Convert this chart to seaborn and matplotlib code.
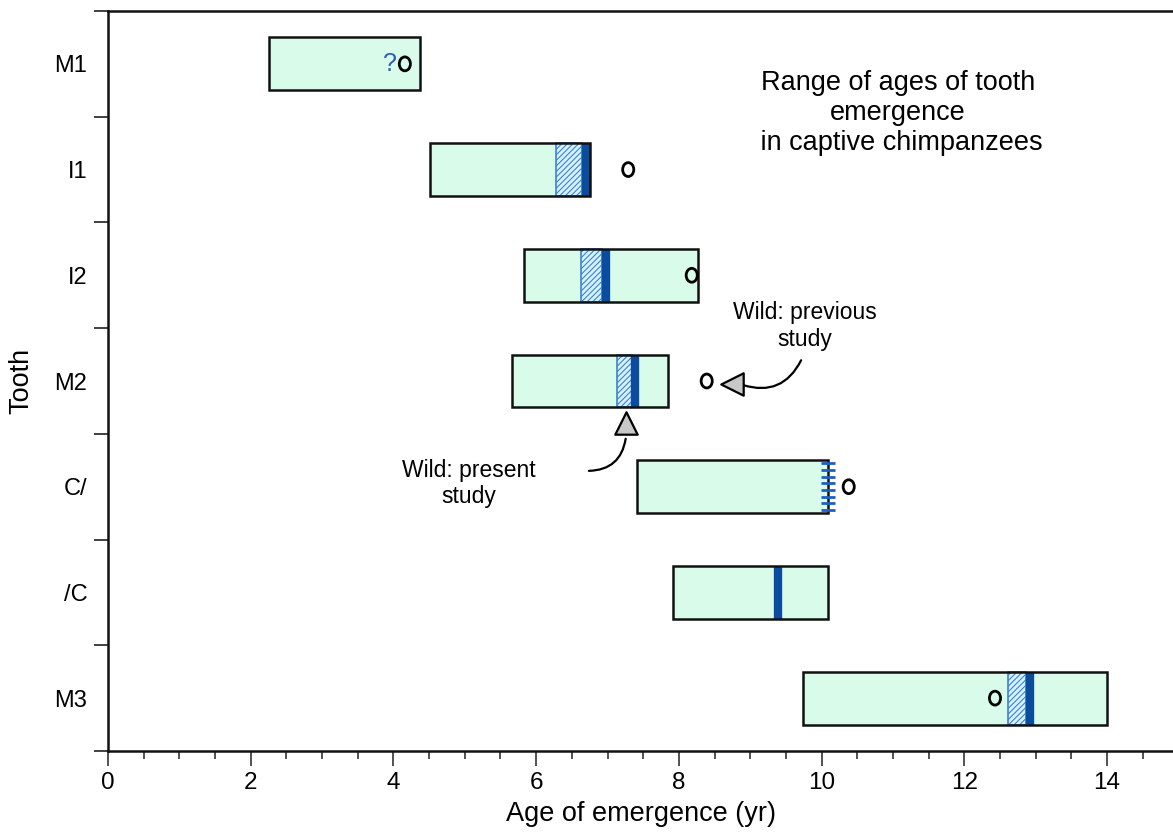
import numpy as np
import pandas as pd
import matplotlib
matplotlib.use("Agg")
import matplotlib.pyplot as plt
import seaborn as sns
from matplotlib.path import Path
from matplotlib.transforms import Affine2D

# ---- data ----
teeth = ["M1", "I1", "I2", "M2", "C/", "/C", "M3"]
captive_min = [2.26, 4.51, 5.83, 5.66, 7.41, 7.92, 9.74]
captive_max = [4.37, 6.75, 8.27, 7.85, 10.09, 10.09, 14.0]
present_lo = [np.nan, 6.28, 6.63, 7.13, np.nan, np.nan, 12.61]
present_hi = [np.nan, 6.64, 6.92, 7.34, np.nan, np.nan, 12.86]
present_mean = [np.nan, 6.70, 6.98, 7.39, np.nan, 9.39, 12.92]
previous_wild = [4.16, 7.29, 8.18, 8.39, 10.38, np.nan, 12.43]
censored_right = [False, False, False, False, True, False, False]
uncertain = [True, False, False, False, False, False, False]
x_major = [0, 2, 4, 6, 8, 10, 12, 14]

# ---- style ----
BOX_FILL = "#d8fbea"
HATCH_BG = "#d6f2fc"
HATCH_EDGE = "#3b82d6"
DARK = "#0b4c9e"
FONT = ["Liberation Sans", "DejaVu Sans"]

sns.set_style("white")
plt.rcParams["font.family"] = FONT
plt.rcParams["text.color"] = "black"
plt.rcParams["axes.labelcolor"] = "black"
plt.rcParams["xtick.color"] = "black"
plt.rcParams["ytick.color"] = "black"
plt.rcParams["hatch.linewidth"] = 0.8
plt.rcParams["hatch.color"] = HATCH_EDGE

fig = plt.figure(figsize=(11.73, 8.33), dpi=100)
ax = fig.add_axes([108 / 1173, 82 / 833, 1065 / 1173, 740 / 833])

df = pd.DataFrame({"tooth": teeth, "lo": captive_min, "hi": captive_max,
                   "plo": present_lo, "phi": present_hi})
df["span"] = df["hi"] - df["lo"]
df["pspan"] = df["phi"] - df["plo"]
pos = np.arange(len(teeth))

# captive range boxes (fill)
sns.barplot(data=df, x="span", y="tooth", order=teeth, orient="h",
            left=df["lo"].values, color=BOX_FILL, saturation=1, width=0.5,
            errorbar=None, linewidth=0, edgecolor="none", ax=ax, zorder=1)

# wild present-study range (hatched)
dh = df.dropna(subset=["plo"])
sns.barplot(data=dh, x="pspan", y="tooth", order=teeth, orient="h",
            left=dh["plo"].values, color=HATCH_BG, saturation=1, width=0.5,
            errorbar=None, edgecolor=HATCH_EDGE, linewidth=1.2, hatch="//////",
            ax=ax, zorder=2)

# wild present-study mean (dark bar)
pm = np.array(present_mean)
ok = ~np.isnan(pm)
ax.vlines(pm[ok], pos[ok] - 0.25, pos[ok] + 0.25, color=DARK, lw=6, zorder=3)

# box outlines
sns.barplot(data=df, x="span", y="tooth", order=teeth, orient="h",
            left=df["lo"].values, fill=False, color="black", width=0.5,
            errorbar=None, linewidth=1.8, ax=ax, zorder=4)
for p in ax.patches[-len(teeth):]:
    p.set_edgecolor("#111111")

# censored right edge (C/)
for i, c in enumerate(censored_right):
    if c:
        ys = pos[i] + np.linspace(-0.22, 0.22, 8)
        ax.plot([captive_max[i]] * len(ys), ys, ls="none", marker="_",
                ms=10, mew=2, color="#1d5fbf", zorder=5)

# previous wild study (open circles)
ell = Path.unit_circle().transformed(Affine2D().scale(0.8, 1.0))
pw = np.array(previous_wild)
okp = ~np.isnan(pw)
ax.scatter(pw[okp], pos[okp], marker=ell, s=100, facecolors="none",
           edgecolors="black", linewidths=2, zorder=6)

# uncertain mark
for i, u in enumerate(uncertain):
    if u:
        ax.text(previous_wild[i] - 0.21, pos[i], "?", color="#2a5cb8",
                fontsize=18, ha="center", va="center", zorder=6)

# pointers
m2 = teeth.index("M2")
ax.scatter([8.74], [m2 + 0.03], marker="<", s=260, color="#c8c8c8",
           edgecolors="black", linewidths=1.6, zorder=7)
ax.scatter([7.26], [m2 + 0.40], marker="^", s=260, color="#c8c8c8",
           edgecolors="black", linewidths=1.6, zorder=7)
ax.annotate("", xy=(8.86, m2 + 0.03), xytext=(9.73, m2 - 0.22),
            arrowprops=dict(arrowstyle="-", lw=1.6, color="black",
                            connectionstyle="arc3,rad=-0.45"))
ax.annotate("", xy=(7.26, m2 + 0.52), xytext=(6.7, m2 + 0.85),
            arrowprops=dict(arrowstyle="-", lw=1.6, color="black",
                            connectionstyle="arc3,rad=0.45"))
ax.text(9.77, m2 - 0.52, "Wild: previous\nstudy", ha="center", va="center",
        fontsize=16.5, linespacing=1.2)
ax.text(5.06, m2 + 0.97, "Wild: present\nstudy", ha="center", va="center",
        fontsize=16.5, linespacing=1.2)

ax.text(0.742, 0.862, "Range of ages of tooth\nemergence\n in captive chimpanzees",
        transform=ax.transAxes, ha="center", va="center", fontsize=19.5,
        linespacing=1.2)

# axes
ax.set_xlim(0, 1065 / 71.36)
ax.set_ylim(len(teeth) - 0.5, -0.5)
ax.set_xticks(x_major)
ax.set_xticklabels([str(v) for v in x_major])
ax.set_xticks(np.arange(0, 15, 0.5), minor=True)
ax.set_yticks(pos)
ax.set_yticklabels(teeth)
ax.set_yticks(np.arange(-0.5, len(teeth), 1.0), minor=True)
ax.tick_params(axis="y", which="major", length=0, pad=15, labelsize=17)
ax.tick_params(axis="y", which="minor", length=10, width=1.3, color="#333333",
               left=True)
ax.tick_params(axis="x", which="major", length=11, width=1.2, color="#333333",
               labelsize=17.5, pad=4, bottom=True)
ax.tick_params(axis="x", which="minor", length=5.5, width=1.2,
               color="#333333", bottom=True)
ax.set_xlabel("Age of emergence (yr)", fontsize=19.5, labelpad=5)
ax.set_ylabel("Tooth", fontsize=19.5, labelpad=14)
for s in ["left", "bottom", "top"]:
    ax.spines[s].set_visible(True)
    ax.spines[s].set_linewidth(1.8)
    ax.spines[s].set_color("#111111")
ax.spines["right"].set_visible(False)

fig.savefig("out.png", dpi=100)
